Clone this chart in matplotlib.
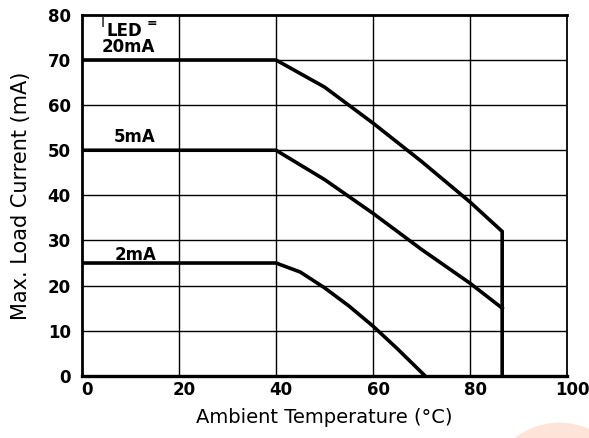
import matplotlib
matplotlib.use("Agg")
from matplotlib import pyplot as plt
from matplotlib.patches import Ellipse
from matplotlib.transforms import ScaledTranslation

# derating curves
temp_20ma = [0, 40, 50, 60, 70, 80, 86.6, 86.6]
load_20ma = [70, 70, 64, 56, 47.5, 38.5, 32, 0]

temp_5ma = [0, 40, 50, 60, 70, 80, 86.6]
load_5ma = [50, 50, 43.5, 36, 28, 20.5, 15]

temp_2ma = [0, 40, 45, 50, 55, 60, 65, 70.7]
load_2ma = [25, 25, 23, 19.5, 15.5, 11, 6, 0]

x_ticks = [0, 20, 40, 60, 80, 100]
y_ticks = [0, 10, 20, 30, 40, 50, 60, 70, 80]

fig = plt.figure(figsize=(5.89, 4.38), dpi=100)
ax = fig.add_axes([0.139, 0.142, 0.824, 0.824])

# grid first, thin black lines
for x in x_ticks[1:-1]:
    ax.axvline(x, color='black', linewidth=1.0, zorder=1)
for y in y_ticks[1:-1]:
    ax.axhline(y, color='black', linewidth=1.0, zorder=1)

ax.plot(temp_20ma, load_20ma, color='black', linewidth=2.6, solid_joinstyle='miter', zorder=3)
ax.plot(temp_5ma, load_5ma, color='black', linewidth=2.6, solid_joinstyle='miter', zorder=3)
ax.plot(temp_2ma, load_2ma, color='black', linewidth=2.6, solid_joinstyle='miter', zorder=3)

ax.set_xlim(0, 100)
ax.set_ylim(0, 80)
ax.set_xticks(x_ticks)
ax.set_yticks(y_ticks)
ax.tick_params(axis='x', length=0, pad=4)
ax.tick_params(axis='y', length=0, pad=8)
shift = ScaledTranslation(5 / 100, 0, fig.dpi_scale_trans)
for lab in ax.get_xticklabels():
    lab.set_transform(lab.get_transform() + shift)
for lab in ax.get_xticklabels() + ax.get_yticklabels():
    lab.set_fontweight('bold')
    lab.set_fontsize(12)

ax.spines['left'].set_linewidth(2.0)
ax.spines['bottom'].set_linewidth(2.4)
ax.spines['top'].set_linewidth(2.0)
ax.spines['right'].set_linewidth(1.3)

# curve labels
ax.text(4.3, 78.3, 'I', fontsize=10, va='center', ha='center')
ax.text(8.8, 76.5, 'LED', fontsize=12, fontweight='bold', va='center', ha='center')
ax.text(14.5, 78.0, '=', fontsize=9, fontweight='bold', va='center', ha='center')
ax.text(9.5, 72.8, '20mA', fontsize=12, fontweight='bold', va='center', ha='center')
ax.text(10.8, 53, '5mA', fontsize=12, fontweight='bold', va='center', ha='center')
ax.text(11.1, 26.8, '2mA', fontsize=12, fontweight='bold', va='center', ha='center')

ax.set_xlabel('Ambient Temperature (°C)', fontsize=14, labelpad=6)
ax.set_ylabel('Max. Load Current (mA)', fontsize=15, labelpad=12)

# faint orange blob in the corner of the scan
fig.patches.append(Ellipse((0.95, -0.15), 0.26, 0.37, transform=fig.transFigure,
                           facecolor='#fde3d8', edgecolor='none', zorder=0))

fig.savefig('out.png', dpi=100)
